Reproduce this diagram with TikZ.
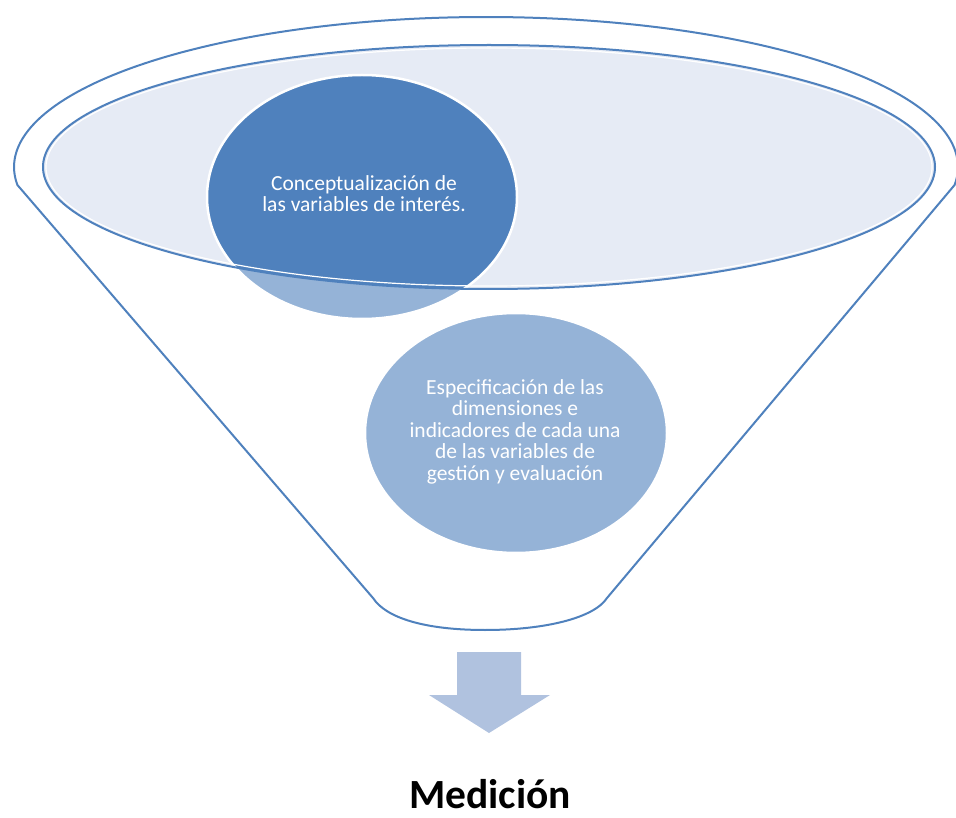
\documentclass[tikz,border=0pt]{standalone}
\usepackage{fontspec}
\setmainfont{Carlito}
\definecolor{funnelblue}{RGB}{79,129,189}
\definecolor{darkdisc}{RGB}{79,129,189}
\definecolor{lightdisc}{RGB}{149,179,215}
\definecolor{mouthfill}{RGB}{230,235,245}
\definecolor{arrowfill}{RGB}{176,194,223}
\tikzset{
  outline/.style={draw=funnelblue, line width=2pt, line join=round},
  disctext/.style={text=white, align=center, anchor=base, inner sep=0pt,
    font=\fontsize{21.5}{21.5}\selectfont},
}
\begin{document}
\begin{tikzpicture}[x=1pt, y=-1pt]
\useasboundingbox (0,0) rectangle (956,818);

% funnel body: upper rim of the outer ellipse, cone sides and rounded bottom
\coordinate (bl) at (373,598);
\coordinate (br) at (607,598);
\coordinate (bottom) at (485,630);
\draw[outline, fill=white]
  plot[domain=186.9:-6.9, samples=120, smooth] ({486+472*cos(\x)}, {167-150*sin(\x)})
  -- (br)
  .. controls (594,618) and (545,630) .. (bottom)
  .. controls (425,630) and (386,618) .. (bl)
  -- cycle;

% funnel mouth
\fill[mouthfill] (489,167) ellipse [x radius=446pt, y radius=122pt];

% first disc: light outside the mouth, dark inside it
\fill[lightdisc] (362,197) ellipse [x radius=155pt, y radius=122pt];
\begin{scope}
  \clip (489,167) ellipse [x radius=446pt, y radius=122pt];
  \fill[darkdisc] (362,197) ellipse [x radius=155pt, y radius=122pt];
\end{scope}
\draw[white, line width=2.5pt] (362,197) ellipse [x radius=155pt, y radius=122pt];

% rim of the mouth with its light inner edge
\draw[white, line width=1.2pt] (489,167) ellipse [x radius=443pt, y radius=119pt];
\draw[outline] (489,167) ellipse [x radius=446pt, y radius=122pt];

% second disc
\fill[lightdisc, draw=white, line width=2.5pt] (516,433) ellipse [x radius=151pt, y radius=120pt];

% labels (anchored at the baseline of their last line)
\node[disctext] (concept) at (364,212)
  {Conceptualización de\\las variables de interés.};
\node[disctext] (spec) at (515,480)
  {Especificación de las\\dimensiones e\\indicadores de cada una\\de las variables de\\gestión y evaluación};

% output arrow
\fill[arrowfill] (457,652) -- (521,652) -- (521,695) -- (550,695)
  -- (489,733) -- (429,695) -- (457,695) -- cycle;
\coordinate (arrowtip) at (489,733);

\node[anchor=base, inner sep=0pt, font=\fontsize{41.5}{44}\selectfont\bfseries] (medicion) at (490,808) {Medición};
\end{tikzpicture}
\end{document}
